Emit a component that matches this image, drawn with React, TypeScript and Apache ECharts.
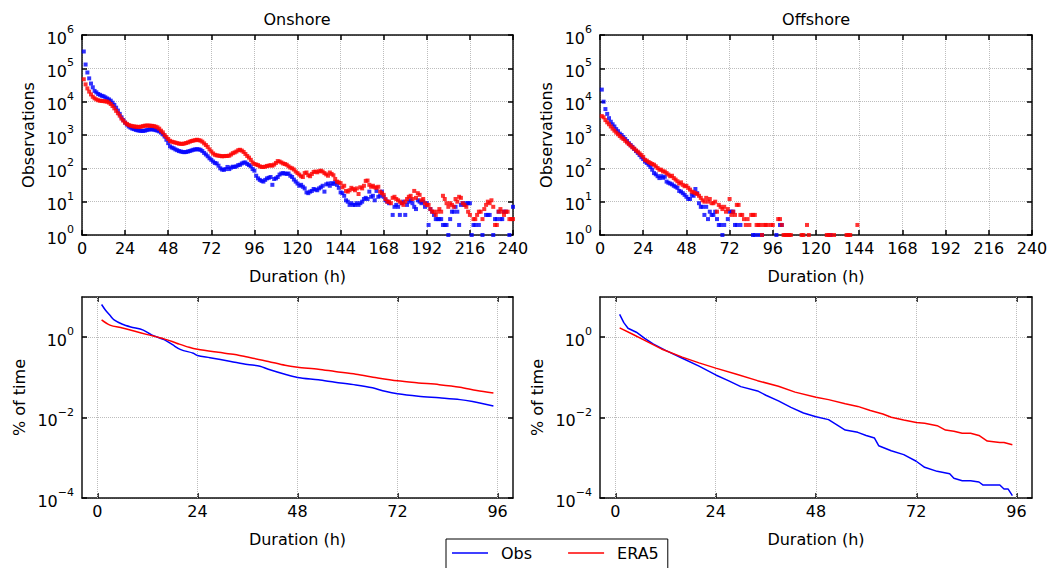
import React, { useEffect, useRef } from "react";
import * as echarts from "echarts";

const FONT = "DejaVu Sans";
const BLUE = "#0000ff";
const RED = "#ff0000";

// Tick values
const X_TICKS_TOP = [0, 24, 48, 72, 96, 120, 144, 168, 192, 216, 240];
const X_TICKS_BOTTOM = [0, 24, 48, 72, 96];

// Observations per event duration (hour 1 = first entry); null = no events
const ONSHORE_OBS: (number | null)[] = [
  320000, 130000, 75000, 50000, 35000, 27000, 21000, 19000, 17000, 16000,
  15000, 14500, 13500, 12500, 11700, 10700, 9300, 8000, 6600, 5400,
  4300, 3400, 2800, 2350, 2050, 1800, 1660, 1550, 1500, 1420,
  1380, 1350, 1330, 1330, 1350, 1400, 1450, 1480, 1480, 1450,
  1400, 1350, 1280, 1180, 1050, 900, 720, 570, 455, 420,
  400, 370, 350, 330, 320, 310, 305, 310, 320, 330,
  345, 360, 370, 375, 370, 360, 330, 290, 260, 230,
  200, 180, 160, 145, 140, 120, 100, 92, 90, 95,
  110, 95, 105, 112, 110, 115, 125, 128, 140, 148,
  150, 135, 125, 115, 95, 85, 60, 50, 45, 42,
  40, 45, 50, 52, 55, 32, 48, 50, 55, 65,
  70, 72, 70, 68, 70, 60, 55, 46, 40, 35,
  30, 32, 28, 25, 19, 18, 20, 21, 24, 23,
  22, 25, 27, 30, 20, 33, 35, 30, 36, 34,
  38, 32, 26, 19, 18, 15, 11, 10, 8, 9,
  8, 8, 9, 8, 9, 10, 12, 13, 12, 20,
  14, 15, 11, 21, 14, 15, 20, 14, 11, 10,
  9, null, 4, 7, 8, 7, 4, 9, 10, 4,
  8, 10, 11, 9, 7, 6, 11, 10, 9, 10,
  7, 9, 2, 6, 5, 4, 3, 3, 3, 3,
  2, 2, 2, 1, 3, 5, 5, 7, 5, 2,
  8, 9, 8, 9, 9, 9, 1, 2, 2, null,
  2, null, 1, null, 4, 4, 4, null, 1, 3,
  3, 5, 3, 3, 5, 5, null, 1, null, 7,
];

const ONSHORE_ERA5: (number | null)[] = [
  47000, 33000, 25000, 20000, 16500, 14000, 12600, 11700, 11000, 10700,
  10500, 10400, 10200, 10000, 9400, 8500, 7400, 6300, 5300, 4500,
  3800, 3100, 2700, 2350, 2150, 2000, 1900, 1850, 1800, 1780,
  1750, 1750, 1780, 1850, 1900, 1920, 1920, 1900, 1880, 1850,
  1780, 1700, 1550, 1350, 1200, 1000, 870, 760, 670, 630,
  610, 590, 570, 550, 545, 540, 555, 575, 600, 630,
  660, 680, 700, 720, 700, 680, 630, 560, 500, 440,
  370, 320, 280, 255, 245, 240, 235, 230, 232, 235,
  235, 240, 260, 285, 300, 320, 350, 360, 340, 310,
  270, 235, 210, 180, 150, 135, 130, 125, 115, 110,
  110, 112, 118, 120, 125, 120, 130, 145, 165, 160,
  150, 140, 135, 128, 115, 105, 100, 92, 80, 72,
  65, 58, 55, 72, 75, 62, 58, 68, 78, 80,
  76, 82, 85, 80, 72, 66, 60, 75, 68, 62,
  48, 40, 38, 36, 27, 30, 21, 20, 22, 26,
  24, 22, 25, 17, 27, 25, 30, 42, 43, 32,
  28, 30, 27, 26, 28, 20, 18, 16, 12, 10,
  10, 9, 13, 14, 12, 11, 10, 9, 8, 10,
  12, 14, 15, 12, 21, 13, 18, 16, 11, 12,
  9, 8, 8, 6, 5, 5, 4, 5, 6, 5,
  15, 12, 9, 7, 9, 8, 7, 12, 10, 14,
  13, 9, 8, 7, 5, 4, null, 3, 3, 4,
  5, 5, 3, 6, 8, 10, 9, 11, 7, 2,
  2, 5, 6, 5, 4, 5, 5, 3, 3, 3,
];

const OFFSHORE_OBS: (number | null)[] = [
  23000, 10000, 6000, 4300, 3200, 2500, 2100, 1800, 1500, 1300,
  1100, 1000, 870, 760, 660, 570, 500, 440, 380, 330,
  290, 250, 215, 190, 160, 145, 128, 110, 91, 72,
  66, 58, 51, 58, 52, 56, 40, 37, 35, 33,
  30, 28, 26, 21, 20, 18, 16, 14, 12, 12,
  16, 15, 24, 18, 9, 7, 7, 4, 7, 3,
  5, 4, 4, 5, 3, 2, 2, 1, 2, null,
  3, 5, 5, 5, 2, 2, null, 2, null, null,
  null, null, null, null, 1, 1, null, 1, null, 1,
  null, null, null, null, null, null, null, 1, null, 2,
  2, null, null, null, null, null, null, null, null, null,
  null, null, null, null, null, null, null, null, null, null,
  null, null, null, null, null, null, null, 1,
];

const OFFSHORE_ERA5: (number | null)[] = [
  3700, 3400, 2800, 2400, 2100, 1800, 1550, 1350, 1180, 1050,
  930, 830, 760, 670, 600, 535, 480, 425, 390, 345,
  315, 280, 250, 220, 180, 170, 155, 145, 135, 128,
  115, 102, 91, 91, 81, 80, 72, 65, 58, 60,
  51, 46, 41, 35, 38, 32, 29, 30, 26, 23,
  20, 19, 18, 17, 15, 13, 11, 10, 13, 10,
  12, 9, 9, 10, 5, 8, 7, 6, 7, 5,
  6, 12, 4, 5, 4, 8, 8, 4, 4, 3,
  2, 3, 2, 4, 4, 4, 2, 2, 2, 1,
  2, 2, 2, null, 2, 2, null, null, 3, 3,
  2, 1, 1, 1, 1, 1, null, null, null, null,
  null, 1, 1, null, 2, 1, null, null, null, null,
  null, null, null, null, null, 1, 1, 1, null, 1,
  null, null, null, null, null, null, 1, 1, 1, null,
  null, null, 2,
];

// Percentage of time (bottom panels)
const ON_PCT_OBS_H = [1, 2, 3, 4, 6, 8, 11, 13, 16, 18, 20, 23, 24, 27, 32, 36, 39, 41, 45, 48, 53, 57, 62, 66, 69, 72, 77, 82, 87, 90, 95];
const ON_PCT_OBS = [6.5, 4.6, 3.5, 2.7, 2.1, 1.8, 1.5, 1.14, 0.87, 0.65, 0.49, 0.4, 0.35, 0.31, 0.25, 0.21, 0.19, 0.16, 0.12, 0.1, 0.087, 0.076, 0.065, 0.055, 0.045, 0.039, 0.034, 0.031, 0.028, 0.025, 0.0195];
const ON_PCT_ERA5_H = [1, 3, 6, 9, 12, 16, 19, 22, 24, 29, 33, 36, 41, 45, 48, 53, 57, 62, 67, 72, 77, 82, 87, 91, 95];
const ON_PCT_ERA5 = [2.7, 2.0, 1.7, 1.4, 1.16, 0.91, 0.71, 0.56, 0.5, 0.42, 0.37, 0.32, 0.25, 0.2, 0.18, 0.16, 0.14, 0.12, 0.098, 0.082, 0.073, 0.066, 0.057, 0.047, 0.041];
const OFF_PCT_OBS_H = [1, 2, 3, 5, 7, 9, 12, 16, 20, 24, 27, 30, 34, 36, 39, 42, 45, 48, 51, 53, 55, 58, 60, 62, 63, 66, 69, 72, 74, 77, 80, 81, 83, 85, 87, 88, 92, 93, 94, 95];
const OFF_PCT_OBS = [3.7, 2.3, 1.67, 1.33, 0.94, 0.68, 0.47, 0.3, 0.19, 0.115, 0.083, 0.059, 0.046, 0.036, 0.026, 0.018, 0.013, 0.0105, 0.0089, 0.0066, 0.0049, 0.0043, 0.0036, 0.0031, 0.002, 0.0015, 0.0012, 0.00082, 0.00058, 0.00046, 0.0004, 0.00031, 0.00027, 0.00027, 0.00025, 0.00021, 0.00021, 0.000167, 0.000167, 0.000115];
const OFF_PCT_ERA5_H = [1, 4, 7, 11, 16, 20, 24, 29, 34, 39, 43, 48, 51, 55, 58, 61, 64, 66, 69, 72, 74, 77, 79, 81, 83, 85, 87, 89, 92, 93, 95];
const OFF_PCT_ERA5 = [1.7, 1.2, 0.83, 0.51, 0.32, 0.23, 0.17, 0.12, 0.083, 0.06, 0.043, 0.032, 0.028, 0.022, 0.019, 0.015, 0.0123, 0.0102, 0.0087, 0.0076, 0.0072, 0.0063, 0.0049, 0.0046, 0.0041, 0.0041, 0.0036, 0.0026, 0.0024, 0.0024, 0.0021];

const hourly = (vals: (number | null)[]) =>
  vals.map((v, i) => (v == null ? null : [i + 1, v])).filter((p) => p !== null) as number[][];
const pairs = (hs: number[], vs: number[]) => hs.map((h, i) => [h, vs[i]]);

const logLabel = (v: number) => {
  const e = Math.log10(v);
  const r = Math.round(e);
  if (Math.abs(e - r) > 1e-6) return "";
  const s = r < 0 ? "\u2212" + Math.abs(r) : String(r);
  return `{b|10}{s|${s}}`;
};

const AXIS_LINE = { onZero: false, lineStyle: { color: "#111", width: 1.5 } };
const TICK_STYLE = { color: "#000", width: 1.5 };
const GRID_LINE = { show: true, lineStyle: { type: "dotted", color: "#bdbdbd", width: 1 } };
const LABEL_RICH = {
  b: { fontSize: 16, fontFamily: FONT, color: "#000", lineHeight: 22, verticalAlign: "bottom" },
  s: { fontSize: 11, fontFamily: FONT, color: "#000", lineHeight: 11, verticalAlign: "top" },
};
const NAME_STYLE = { fontSize: 16, fontFamily: FONT, color: "#000" };

function buildOption() {
  const grids = [
    { left: 82, top: 35, width: 431, height: 200 },
    { left: 600, top: 35, width: 432, height: 200 },
    { left: 82, top: 297, width: 431, height: 201 },
    { left: 600, top: 297, width: 432, height: 201 },
  ].map((g) => ({ ...g, outerBoundsMode: "none", containLabel: false }));

  const xAxis: any[] = [];
  const yAxis: any[] = [];
  grids.forEach((_, gi) => {
    const top = gi < 2;
    const xBase: any = top
      ? { min: X_TICKS_TOP[0], max: X_TICKS_TOP[X_TICKS_TOP.length - 1], interval: 24 }
      : { min: -3.7, max: 99.7 };
    xAxis.push({
      type: "value",
      gridIndex: gi,
      position: "bottom",
      ...xBase,
      axisLine: AXIS_LINE,
      axisTick: {
        inside: true,
        length: 5,
        lineStyle: TICK_STYLE,
        ...(top ? {} : { customValues: X_TICKS_BOTTOM }),
      },
      axisLabel: {
        fontSize: 16,
        fontFamily: FONT,
        color: "#000",
        margin: 5,
        ...(top ? {} : { customValues: X_TICKS_BOTTOM }),
      },
      splitLine: top ? GRID_LINE : { show: false },
      name: "Duration (h)",
      nameLocation: "middle",
      nameGap: 33,
      nameTextStyle: NAME_STYLE,
    });
    xAxis.push({
      type: "value",
      gridIndex: gi,
      position: "top",
      ...xBase,
      axisLine: AXIS_LINE,
      axisTick: {
        inside: true,
        length: 5,
        lineStyle: TICK_STYLE,
        ...(top ? {} : { customValues: X_TICKS_BOTTOM }),
      },
      axisLabel: { show: false },
      splitLine: { show: false },
    });
    const yBase: any = top ? { min: 1, max: 1e6 } : { min: 1e-4, max: 10, interval: 2 };
    yAxis.push({
      type: "log",
      logBase: 10,
      gridIndex: gi,
      position: "left",
      ...yBase,
      axisLine: AXIS_LINE,
      axisTick: { inside: true, length: 5, lineStyle: TICK_STYLE },
      axisLabel: { formatter: logLabel, rich: LABEL_RICH, margin: 8, showMaxLabel: top },
      splitLine: GRID_LINE,
      name: top ? "Observations" : "% of time",
      nameLocation: "middle",
      nameGap: top ? 46 : 55,
      nameTextStyle: NAME_STYLE,
    });
    yAxis.push({
      type: "log",
      logBase: 10,
      gridIndex: gi,
      position: "right",
      ...yBase,
      axisLine: AXIS_LINE,
      axisTick: { inside: true, length: 5, lineStyle: TICK_STYLE },
      axisLabel: { show: false },
      splitLine: { show: false },
    });
  });

  const lineSeries = (name: string, color: string, ax: number, data: number[][], withGrid: boolean, smooth: number) => ({
    type: "line",
    name,
    xAxisIndex: ax,
    yAxisIndex: ax,
    data,
    symbol: "none",
    smooth,
    lineStyle: { color, width: 1.5 },
    itemStyle: { color },
    z: 3,
    ...(withGrid
      ? {
          markLine: {
            silent: true,
            symbol: ["none", "none"],
            label: { show: false },
            lineStyle: { type: "dotted", color: "#bdbdbd", width: 1 },
            data: X_TICKS_BOTTOM.map((v) => ({ xAxis: v })),
            z: 1,
          },
        }
      : {}),
  });

  const scatterSeries = (name: string, color: string, ax: number, data: number[][]) => ({
    type: "scatter",
    name,
    xAxisIndex: ax,
    yAxisIndex: ax,
    data,
    symbol: "rect",
    symbolSize: 4,
    itemStyle: { color },
    clip: false,
  });

  return {
    animation: false,
    backgroundColor: "#fff",
    textStyle: { fontFamily: FONT },
    title: [
      { text: "Onshore", left: 297, top: 11, textAlign: "center", padding: 0, textStyle: { fontSize: 16, fontWeight: "normal", fontFamily: FONT, color: "#000" } },
      { text: "Offshore", left: 816, top: 11, textAlign: "center", padding: 0, textStyle: { fontSize: 16, fontWeight: "normal", fontFamily: FONT, color: "#000" } },
    ],
    legend: {
      data: [
        { name: "Obs", icon: "rect", itemStyle: { color: BLUE } },
        { name: "ERA5", icon: "rect", itemStyle: { color: RED } },
      ],
      left: 446,
      top: 539,
      orient: "horizontal",
      itemWidth: 36,
      itemHeight: 1.5,
      itemGap: 36,
      padding: [6, 9, 20, 6],
      borderColor: "#000",
      borderWidth: 1,
      borderRadius: 0,
      backgroundColor: "#fff",
      selectedMode: false,
      textStyle: { fontSize: 16, fontFamily: FONT, color: "#000", padding: [0, 0, 0, 8] },
    },
    grid: grids,
    xAxis,
    yAxis,
    series: [
      lineSeries("Obs", BLUE, 4, pairs(ON_PCT_OBS_H, ON_PCT_OBS), true, 0.3),
      lineSeries("ERA5", RED, 4, pairs(ON_PCT_ERA5_H, ON_PCT_ERA5), false, 0.3),
      lineSeries("Obs", BLUE, 6, pairs(OFF_PCT_OBS_H, OFF_PCT_OBS), true, 0),
      lineSeries("ERA5", RED, 6, pairs(OFF_PCT_ERA5_H, OFF_PCT_ERA5), false, 0),
      scatterSeries("Onshore Obs", BLUE, 0, hourly(ONSHORE_OBS)),
      scatterSeries("Onshore ERA5", RED, 0, hourly(ONSHORE_ERA5)),
      scatterSeries("Offshore Obs", BLUE, 2, hourly(OFFSHORE_OBS)),
      scatterSeries("Offshore ERA5", RED, 2, hourly(OFFSHORE_ERA5)),
    ],
  };
}

export default function App() {
  const ref = useRef<HTMLDivElement>(null);
  useEffect(() => {
    document.body.style.margin = "0";
    if (!ref.current) return;
    const chart = echarts.init(ref.current, undefined, { renderer: "svg" });
    chart.setOption(buildOption() as any);
    return () => chart.dispose();
  }, []);
  return <div ref={ref} style={{ width: 1049, height: 568 }} />;
}
